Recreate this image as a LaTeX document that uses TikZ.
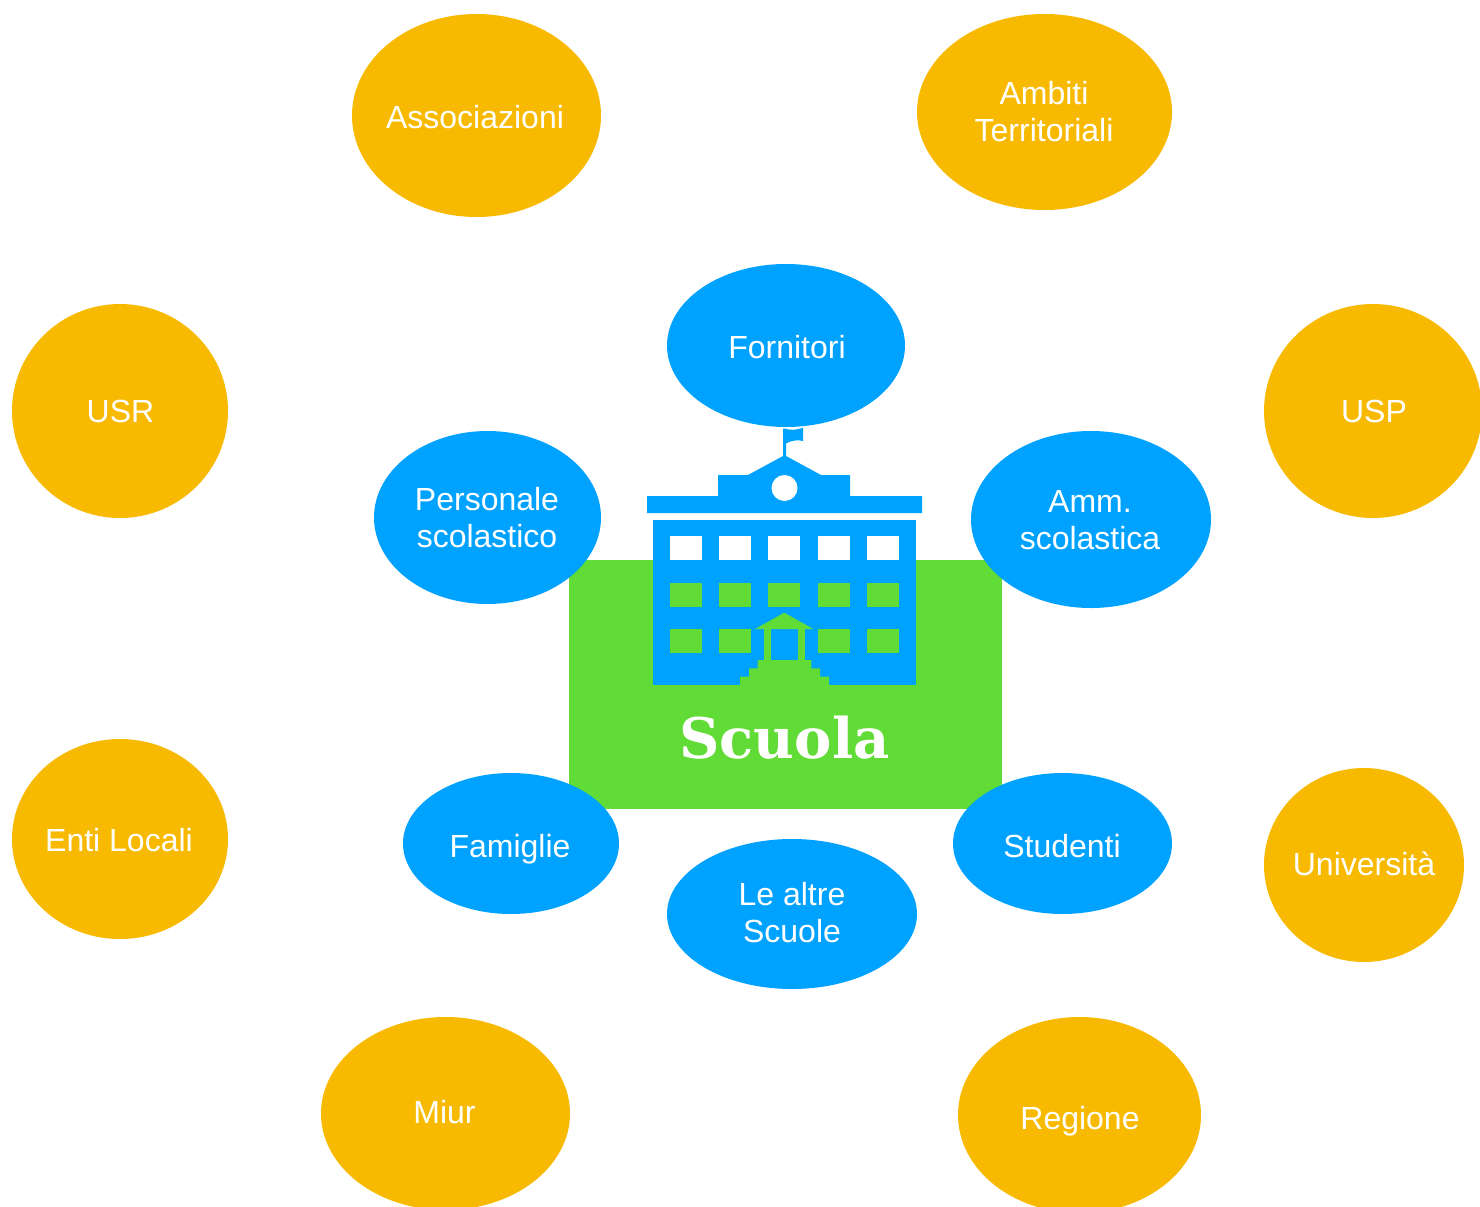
\documentclass[tikz,border=0pt]{standalone}
\usepackage{fontspec}
\setmainfont{Liberation Sans}
\newfontfamily\slabfont{DejaVu Serif}
\usetikzlibrary{shapes.geometric}
\definecolor{orangeC}{HTML}{F8BA00}
\definecolor{blueC}{HTML}{00A2FF}
\definecolor{greenC}{HTML}{61DB35}
\tikzset{
  blob/.style={ellipse,inner sep=0pt,outer sep=0pt},
  outerblob/.style={blob,fill=orangeC},
  innerblob/.style={blob,fill=blueC},
  lbl/.style={text=white,align=center,inner sep=0pt,font=\fontsize{32}{37}\selectfont},
  bld/.style={fill=blueC},
  win/.style={fill=white},
  grn/.style={fill=greenC}
}
\newcommand{\myblob}[8]{% style,name,x1,x2,y1,y2,textx/texty,text
  \pgfmathsetmacro{\ow}{#4-#3}\pgfmathsetmacro{\oh}{#6-#5}
  \pgfmathsetmacro{\ocx}{(#3+#4)/2}\pgfmathsetmacro{\ocy}{(#5+#6)/2}
  \node[#1,minimum width=\ow pt,minimum height=\oh pt] (#2) at (\ocx,\ocy) {};
  \node[lbl] (#2t) at (#7) {#8};
}
\begin{document}
\begin{tikzpicture}[x=1pt,y=-1pt]
\clip (0,0) rectangle (1480,1207);
\useasboundingbox (0,0) rectangle (1480,1207);
\fill[white] (0,0) rectangle (1480,1207);
% green base
\fill[greenC] (569,560) rectangle (1002,809);
% building
\fill[bld] (783,456) -- (783,428.5) -- (786,428.8) .. controls (790,430.5) and (796,430) .. (803,427.8) -- (803,441)
  .. controls (798,439.5) and (791,440.5) .. (786,443.5) -- (786,456) -- (821,475) -- (850,475) -- (850,496)
  -- (922,496) -- (922,513) -- (647,513) -- (647,496) -- (718,496) -- (718,475) -- (748,475) -- cycle;
\fill[white] (784.5,488) circle (13);
\fill[bld] (653,519.5) rectangle (916,685);
\foreach \wx in {669.5,719,768,817.5,867}{
  \fill[win] (\wx,536) rectangle +(32,24);
  \fill[grn] (\wx,582.7) rectangle +(32,24);
}
\foreach \wx in {669.5,719,817.5,867}{
  \fill[grn] (\wx,629) rectangle +(32,23.7);
}
\fill[grn] (755,629) -- (784.3,612.7) -- (813.3,629) -- cycle;
\fill[grn] (764,629) rectangle (771,661);
\fill[grn] (798,629) rectangle (805,661);
\fill[grn] (757.7,660) -- (811.3,660) -- (811.3,668.3) -- (820,668.3) -- (820,676.7) -- (829,676.7) -- (829,685.5)
  -- (740,685.5) -- (740,676.7) -- (749,676.7) -- (749,668.3) -- (757.7,668.3) -- cycle;
\node[text=white,inner sep=0pt,font=\fontsize{56}{56}\selectfont\slabfont\bfseries] (scuola) at (784.5,738) {Scuola};
% outer
\myblob{outerblob}{assoc}{352}{601}{14}{217}{475,117}{Associazioni}
\myblob{outerblob}{ambiti}{917}{1172}{14}{210}{1044,112}{Ambiti\\Territoriali}
\myblob{outerblob}{usr}{12}{228}{304}{518}{120.5,411}{USR}
\myblob{outerblob}{usp}{1264}{1482}{304}{518}{1374,411}{USP}
\myblob{outerblob}{enti}{12}{228}{739}{939}{119,840}{Enti Locali}
\myblob{outerblob}{univ}{1264}{1464}{768}{962}{1364,864}{Università}
\myblob{outerblob}{miur}{321}{570}{1017}{1210}{444.5,1112}{Miur}
\myblob{outerblob}{regione}{958}{1201}{1017}{1213}{1080,1121}{Regione}
% inner
\myblob{innerblob}{fornitori}{667}{905}{264}{427}{787,347}{Fornitori}
\myblob{innerblob}{personale}{374}{601}{431}{604}{487,517.5}{Personale\\scolastico}
\myblob{innerblob}{amm}{971}{1211}{431}{608}{1090,520.5}{Amm.\\scolastica}
\myblob{innerblob}{famiglie}{403}{619}{773}{914}{510,849}{Famiglie}
\myblob{innerblob}{studenti}{953}{1172}{773}{914}{1062,846}{Studenti}
\myblob{innerblob}{altre}{667}{917}{839}{989}{792,912.5}{Le altre\\Scuole}
\end{tikzpicture}
\end{document}
